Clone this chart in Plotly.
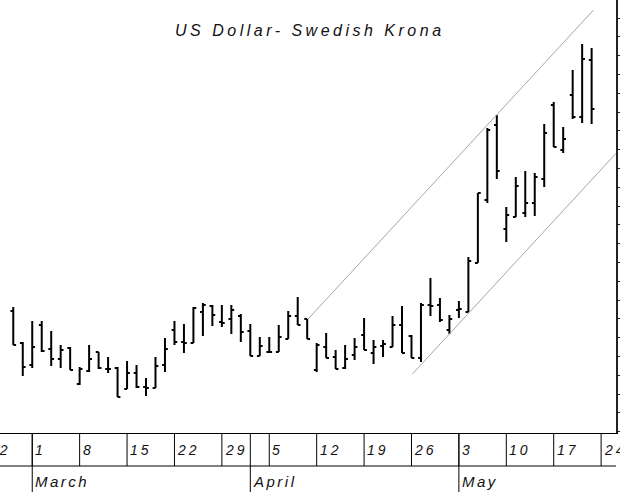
import numpy as np
import plotly.graph_objects as go

# ---- data (USD/SEK daily bars) ----
dates = [
    "1999-02-25", "1999-02-26",
    "1999-03-01", "1999-03-02", "1999-03-03", "1999-03-04", "1999-03-05",
    "1999-03-08", "1999-03-09", "1999-03-10", "1999-03-11", "1999-03-12",
    "1999-03-15", "1999-03-16", "1999-03-17", "1999-03-18", "1999-03-19",
    "1999-03-22", "1999-03-23", "1999-03-24", "1999-03-25", "1999-03-26",
    "1999-03-29", "1999-03-30", "1999-03-31", "1999-04-01", "1999-04-02",
    "1999-04-05", "1999-04-06", "1999-04-07", "1999-04-08", "1999-04-09",
    "1999-04-12", "1999-04-13", "1999-04-14", "1999-04-15", "1999-04-16",
    "1999-04-19", "1999-04-20", "1999-04-21", "1999-04-22", "1999-04-23",
    "1999-04-26", "1999-04-27", "1999-04-28", "1999-04-29", "1999-04-30",
    "1999-05-03", "1999-05-04", "1999-05-05", "1999-05-06", "1999-05-07",
    "1999-05-10", "1999-05-11", "1999-05-12", "1999-05-13", "1999-05-14",
    "1999-05-17", "1999-05-18", "1999-05-19", "1999-05-20", "1999-05-21",
]
open_ = [8.122, 8.090, 8.068, 8.108, 8.084, 8.074, 8.085, 8.049, 8.062, 8.081,
         8.064, 8.065, 8.044, 8.060, 8.046, 8.045, 8.068, 8.103, 8.091, 8.090,
         8.121, 8.127, 8.111, 8.114, 8.117, 8.102, 8.077, 8.081, 8.081, 8.094,
         8.117, 8.114, 8.063, 8.086, 8.076, 8.065, 8.078, 8.098, 8.080, 8.087,
         8.086, 8.108, 8.097, 8.075, 8.128, 8.128, 8.103, 8.123, 8.121, 8.170,
         8.233, 8.308, 8.204, 8.216, 8.220, 8.230, 8.254, 8.328, 8.283, 8.338,
         8.316, 8.373]
high = [8.126, 8.091, 8.112, 8.112, 8.102, 8.088, 8.086, 8.066, 8.088, 8.081,
        8.076, 8.066, 8.072, 8.068, 8.055, 8.076, 8.095, 8.112, 8.109, 8.126,
        8.130, 8.128, 8.128, 8.128, 8.119, 8.109, 8.096, 8.096, 8.108, 8.122,
        8.136, 8.114, 8.090, 8.100, 8.083, 8.088, 8.095, 8.115, 8.093, 8.093,
        8.117, 8.127, 8.098, 8.130, 8.155, 8.135, 8.118, 8.132, 8.176, 8.240,
        8.305, 8.318, 8.226, 8.256, 8.262, 8.260, 8.309, 8.331, 8.306, 8.363,
        8.389, 8.385]
low = [8.088, 8.057, 8.065, 8.081, 8.067, 8.065, 8.063, 8.048, 8.061, 8.064,
       8.060, 8.036, 8.044, 8.045, 8.037, 8.045, 8.061, 8.088, 8.080, 8.090,
       8.097, 8.107, 8.106, 8.099, 8.091, 8.077, 8.077, 8.080, 8.081, 8.094,
       8.108, 8.094, 8.061, 8.075, 8.064, 8.064, 8.073, 8.083, 8.069, 8.076,
       8.086, 8.080, 8.075, 8.071, 8.117, 8.111, 8.099, 8.115, 8.121, 8.170,
       8.230, 8.254, 8.191, 8.216, 8.216, 8.217, 8.246, 8.286, 8.280, 8.314,
       8.310, 8.309]
close = [8.088, 8.066, 8.086, 8.082, 8.074, 8.083, 8.063, 8.064, 8.074, 8.065,
         8.064, 8.036, 8.060, 8.046, 8.045, 8.067, 8.084, 8.091, 8.090, 8.125,
         8.128, 8.118, 8.110, 8.123, 8.101, 8.077, 8.087, 8.081, 8.096, 8.117,
         8.108, 8.094, 8.088, 8.075, 8.064, 8.074, 8.086, 8.083, 8.086, 8.089,
         8.108, 8.080, 8.075, 8.128, 8.127, 8.113, 8.114, 8.124, 8.172, 8.240,
         8.303, 8.262, 8.218, 8.247, 8.230, 8.256, 8.300, 8.286, 8.294, 8.316,
         8.374, 8.324]

# trend channel (trading-day position, price)
upper_x = [31.1, 61.2]
upper_y = [8.114, 8.423]
lower_x = [42.1, 64.0]
lower_y = [8.059, 8.284]

week_dates = ["1999-02-22", "1999-03-01", "1999-03-08", "1999-03-15", "1999-03-22",
              "1999-03-29", "1999-04-05", "1999-04-12", "1999-04-19", "1999-04-26",
              "1999-05-03", "1999-05-10", "1999-05-17", "1999-05-24"]
week_labels = ["22", "1", "8", "15", "22", "29", "5", "12", "19", "26", "3", "10", "17", "24"]
month_dates = ["1999-03-01", "1999-04-01", "1999-05-03"]
month_labels = ["March", "April", "May"]
title_text = "US Dollar- Swedish Krona"

# ---- layout geometry ----
W, H = 620, 492
ML, MR, MT, MB = 0, 4, 0, 59
PH = H - MT - MB
x_range = [-1.40, 63.57]
y_range = [8.000, 8.433]


def pos(d):
    return int(np.busday_count(dates[0], d))


def py(px_from_top):
    # paper y for a pixel row measured from figure top
    return (H - MB - px_from_top) / PH


def px_paper(p):
    return (p - x_range[0]) / (x_range[1] - x_range[0])


xi = list(range(len(dates)))

fig = go.Figure()
fig.add_trace(go.Ohlc(
    x=xi, open=open_, high=high, low=low, close=close,
    increasing=dict(line=dict(color="black", width=2)),
    decreasing=dict(line=dict(color="black", width=2)),
    tickwidth=0.3, showlegend=False, hoverinfo="skip",
))
for cx, cy in ((upper_x, upper_y), (lower_x, lower_y)):
    fig.add_trace(go.Scatter(x=cx, y=cy, mode="lines",
                             line=dict(color="#a6a6a6", width=1),
                             showlegend=False, hoverinfo="skip"))

ROW2 = 466
shapes = []
shapes.append(dict(type="line", xref="paper", yref="paper", x0=0, x1=1,
                   y0=py(ROW2), y1=py(ROW2), line=dict(color="black", width=1)))
for d in week_dates:
    p = pos(d)
    shapes.append(dict(type="line", xref="x", yref="paper", x0=p, x1=p,
                       y0=0, y1=py(ROW2), line=dict(color="black", width=1)))
for d in month_dates:
    p = pos(d)
    shapes.append(dict(type="line", xref="x", yref="paper", x0=p, x1=p,
                       y0=0, y1=py(H), line=dict(color="black", width=1)))

font_day = dict(family="Liberation Sans", size=14, color="#111", style="italic")
font_month = dict(family="Liberation Sans", size=15, color="#111", style="italic")
ann = []
for d, lab in zip(week_dates, week_labels):
    ann.append(dict(xref="paper", yref="paper", x=px_paper(pos(d)), y=py(450),
                    xanchor="left", yanchor="middle", xshift=1, showarrow=False,
                    text=f'<span style="letter-spacing:3px">{lab}</span>', font=font_day))
for d, lab in zip(month_dates, month_labels):
    ann.append(dict(xref="paper", yref="paper", x=px_paper(pos(d)), y=py(481),
                    xanchor="left", yanchor="middle", xshift=1, showarrow=False,
                    text=f'<span style="letter-spacing:2.5px">{lab}</span>', font=font_month))
ann.append(dict(xref="paper", yref="paper", x=0.503, y=py(31), xanchor="center",
                yanchor="middle", showarrow=False,
                text=f'<span style="letter-spacing:3.5px">{title_text}</span>',
                font=dict(family="Liberation Sans", size=16, color="#111", style="italic")))

fig.update_layout(
    width=W, height=H, margin=dict(l=ML, r=MR, t=MT, b=MB),
    paper_bgcolor="white", plot_bgcolor="white",
    shapes=shapes, annotations=ann, showlegend=False,
    xaxis=dict(range=x_range, showgrid=False, zeroline=False, showticklabels=False,
               ticks="", showline=True, linecolor="black", linewidth=1,
               rangeslider=dict(visible=False), fixedrange=True),
    yaxis=dict(range=y_range, side="right", showgrid=False, zeroline=False,
               showticklabels=False, showline=True, linecolor="#222", linewidth=2,
               ticks="outside", ticklen=4, tickwidth=1, tickcolor="#222",
               tick0=8.0013, dtick=0.0188, fixedrange=True),
)

fig.write_html("out.html", config={"displayModeBar": False},
               post_script="document.body.style.margin='0';document.body.style.overflow='hidden';")
